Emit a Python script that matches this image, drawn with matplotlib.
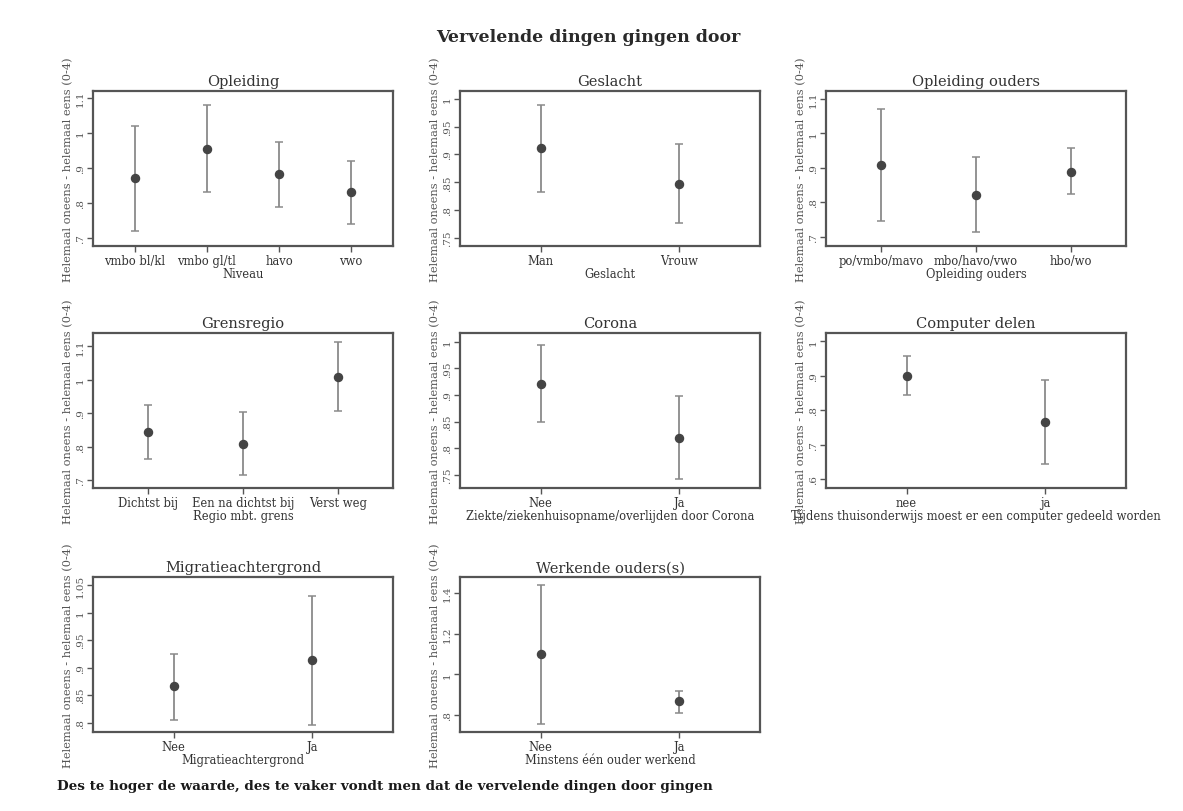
import matplotlib
matplotlib.use("Agg")
import matplotlib.pyplot as plt

plt.rcParams["font.family"] = ["DejaVu Serif"]

# ---- data: mean and 95% interval per group ----
opleiding_cats = ["vmbo bl/kl", "vmbo gl/tl", "havo", "vwo"]
opleiding_mean = [0.870, 0.955, 0.883, 0.830]
opleiding_lo = [0.720, 0.830, 0.789, 0.741]
opleiding_hi = [1.019, 1.081, 0.974, 0.921]

geslacht_cats = ["Man", "Vrouw"]
geslacht_mean = [0.911, 0.847]
geslacht_lo = [0.832, 0.777]
geslacht_hi = [0.989, 0.918]

ouders_cats = ["po/vmbo/mavo", "mbo/havo/vwo", "hbo/wo"]
ouders_mean = [0.909, 0.820, 0.889]
ouders_lo = [0.747, 0.715, 0.823]
ouders_hi = [1.071, 0.931, 0.958]

grens_cats = ["Dichtst bij", "Een na dichtst bij", "Verst weg"]
grens_mean = [0.843, 0.808, 1.008]
grens_lo = [0.762, 0.716, 0.906]
grens_hi = [0.924, 0.904, 1.112]

corona_cats = ["Nee", "Ja"]
corona_mean = [0.920, 0.820]
corona_lo = [0.850, 0.743]
corona_hi = [0.993, 0.899]

computer_cats = ["nee", "ja"]
computer_mean = [0.899, 0.766]
computer_lo = [0.843, 0.644]
computer_hi = [0.957, 0.888]

migratie_cats = ["Nee", "Ja"]
migratie_mean = [0.866, 0.914]
migratie_lo = [0.805, 0.795]
migratie_hi = [0.925, 1.031]

werkend_cats = ["Nee", "Ja"]
werkend_mean = [1.099, 0.866]
werkend_lo = [0.756, 0.808]
werkend_hi = [1.437, 0.920]

panels = [
    ("Opleiding", "Niveau", opleiding_cats, opleiding_mean, opleiding_lo, opleiding_hi,
     [0.7, 0.8, 0.9, 1.0, 1.1], (0.677, 1.120)),
    ("Geslacht", "Geslacht", geslacht_cats, geslacht_mean, geslacht_lo, geslacht_hi,
     [0.75, 0.8, 0.85, 0.9, 0.95, 1.0], (0.7356, 1.0138)),
    ("Opleiding ouders", "Opleiding ouders", ouders_cats, ouders_mean, ouders_lo, ouders_hi,
     [0.7, 0.8, 0.9, 1.0, 1.1], (0.674, 1.122)),
    ("Grensregio", "Regio mbt. grens", grens_cats, grens_mean, grens_lo, grens_hi,
     [0.7, 0.8, 0.9, 1.0, 1.1], (0.676, 1.140)),
    ("Corona", "Ziekte/ziekenhuisopname/overlijden door Corona", corona_cats, corona_mean,
     corona_lo, corona_hi, [0.75, 0.8, 0.85, 0.9, 0.95, 1.0], (0.726, 1.016)),
    ("Computer delen", "Tijdens thuisonderwijs moest er een computer gedeeld worden",
     computer_cats, computer_mean, computer_lo, computer_hi,
     [0.6, 0.7, 0.8, 0.9, 1.0], (0.574, 1.024)),
    ("Migratieachtergrond", "Migratieachtergrond", migratie_cats, migratie_mean,
     migratie_lo, migratie_hi, [0.8, 0.85, 0.9, 0.95, 1.0, 1.05], (0.783, 1.065)),
    ("Werkende ouders(s)", "Minstens één ouder werkend", werkend_cats, werkend_mean,
     werkend_lo, werkend_hi, [0.8, 1.0, 1.2, 1.4], (0.716, 1.478)),
]

W, H = 1183, 812
fig = plt.figure(figsize=(W / 100, H / 100), dpi=100)
fig.patch.set_facecolor("white")

col_left = [93, 460, 826]
row_top = [92, 334, 578]
ax_w, ax_h = 300, 155

TEXT = "#333333"
BAR = "#8a8a8a"
DOT = "#444444"
FRAME = "#555555"


def stata_label(v):
    s = ("%.2f" % v).rstrip("0").rstrip(".")
    if s.startswith("0."):
        s = s[1:]
    return s


for i, (title, xlab, cats, mean, lo, hi, yticks, ylim) in enumerate(panels):
    r, c = divmod(i, 3)
    l = col_left[c]
    t = row_top[r]
    ax = fig.add_axes([l / W, 1 - (t + ax_h) / H, ax_w / W, ax_h / H])
    x = list(range(1, len(cats) + 1))
    yerr = [[m - a for m, a in zip(mean, lo)], [b - m for m, b in zip(mean, hi)]]
    ax.errorbar(x, mean, yerr=yerr, fmt="none", ecolor=BAR, elinewidth=1.3,
                capsize=2.6, capthick=1.1, zorder=2)
    ax.plot(x, mean, "o", color=DOT, markersize=5.8, zorder=3)
    m = 0.58
    ax.set_xlim(1 - m, len(cats) + m)
    ax.set_ylim(*ylim)
    ax.set_xticks(x)
    ax.set_xticklabels(cats, fontsize=8.3, color=TEXT)
    ax.set_yticks(yticks)
    ax.set_yticklabels([stata_label(v) for v in yticks], fontsize=7.5, color="#555555",
                       rotation=90, va="center")
    ax.tick_params(axis="both", direction="out", length=4, width=1, color=FRAME, pad=2)
    ax.tick_params(axis="x", pad=1.5)
    for sp in ax.spines.values():
        sp.set_color(FRAME)
        sp.set_linewidth(1.6)
    ax.set_title(title, fontsize=10.5, color=TEXT, pad=4)
    ax.set_xlabel(xlab, fontsize=8.3, color=TEXT, labelpad=0)
    ax.set_ylabel("Helemaal oneens - helemaal eens (0-4)", fontsize=8.2,
                  color="#555555", labelpad=2)

fig.text(588 / W, 1 - 37 / H, "Vervelende dingen gingen door", ha="center",
         va="center", fontsize=12.5, fontweight="bold", color="#2a2a2a")
fig.text(57 / W, 1 - 787 / H,
         "Des te hoger de waarde, des te vaker vondt men dat de vervelende dingen door gingen",
         ha="left", va="center", fontsize=9.7, fontweight="bold", color="#1a1a1a")

fig.savefig("out.png", dpi=100, facecolor="white")
